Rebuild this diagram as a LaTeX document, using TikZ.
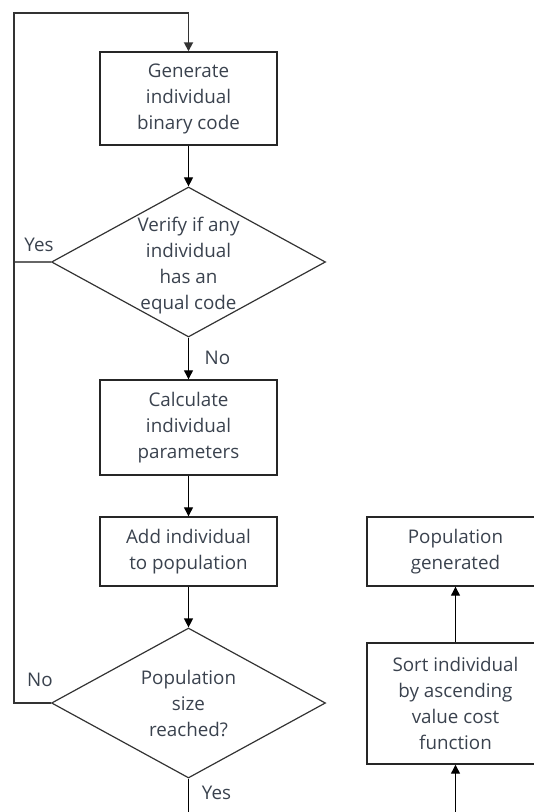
\documentclass[tikz,border=0pt]{standalone}
\usepackage{fontspec}
\setmainfont{Open Sans}
\usepackage{xcolor}
\usetikzlibrary{positioning}
\usetikzlibrary{arrows.meta}
\usetikzlibrary{shapes.geometric}
\definecolor{txtgray}{HTML}{3A424E}
\newcommand{\flowfont}{\fontsize{9.4}{13}\selectfont}

\begin{document}
\begin{tikzpicture}[
    x=0.5pt, y=-0.5pt,
    %% ── Node styles ─────────────────────────────────────────────
    proc/.style  ={draw=black!85, line width=0.7pt, minimum width=88.5pt,
                   align=center, inner sep=0pt, font=\flowfont, text=txtgray},
    dec/.style   ={draw=black!80, line width=0.6pt, diamond,
                   minimum width=137pt, minimum height=75pt, inner sep=0pt},
    dectxt/.style={align=center, inner sep=0pt, font=\flowfont, text=txtgray},
    arr/.style   ={-{Triangle[length=4.5pt,width=4.5pt]}, line width=0.6pt, color=black},
    loopln/.style={line width=1pt, color=black!60},
    lbl/.style   ={inner sep=0pt, font=\flowfont, text=txtgray}
]
    \useasboundingbox (0,0) rectangle (534,812);
    \clip (0,0) rectangle (534,812);

    %% ── Nodes ──────────────────────────────────────────────────
    \node[proc, minimum height=46.5pt] (gen)    at (188.5, 98.5) {Generate\\individual\\binary code};
    \node[dec, label={[dectxt, yshift=-2pt]center:{Verify if any\\individual\\has an\\equal code}}]
                                       (verify) at (188.5, 262)  {};
    \node[proc, minimum height=47.5pt] (calc)   at (188.5, 427.5){Calculate\\individual\\parameters};
    \node[proc, minimum height=34.5pt] (add)    at (188.5, 551.5){Add individual\\to population};
    \node[dec, label={[dectxt]center:{Population\\size\\reached?}}]
                                       (size)   at (188.5, 703)  {};

    \node[proc, minimum height=34.5pt] (popgen) at (455.5, 551.5){Population\\generated};
    \node[proc, minimum height=60.5pt] (sort)   at (455.5, 703.5){Sort individual\\by ascending\\value cost\\function};

    %% ── Labels ─────────────────────────────────────────────────
    \node[lbl] (yes1) at (39, 245)    {Yes};
    \node[lbl] (no1)  at (217.5, 358) {No};
    \node[lbl] (no2)  at (40, 680)    {No};
    \node[lbl] (yes2) at (216.5, 793) {Yes};

    \coordinate (topleft) at (14, 13);
    \coordinate (yesend)  at (188.5, 830);
    \coordinate (sortin)  at (455.5, 830);

    %% ── Arrows ──────────────────────────────────────────────────
    \draw[arr] (gen)    -- (verify);
    \draw[arr] (verify) -- (calc);
    \draw[arr] (calc)   -- (add);
    \draw[arr] (add)    -- (size);
    \draw[line width=0.6pt] (size.south) -- (yesend);
    \draw[loopln] (verify.west) -- (verify.west -| topleft);
    \draw[arr, color=black!80, line width=0.9pt] (size.west) -| (topleft) -| (gen.north);
    \draw[arr] (sortin) -- (sort);
    \draw[arr] (sort)   -- (popgen);

\end{tikzpicture}
\end{document}
